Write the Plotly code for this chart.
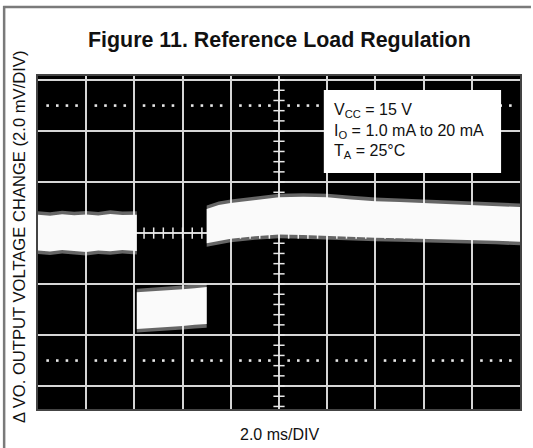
import numpy as np
import plotly.graph_objects as go

# ---------------- data (time in ms, voltage change in mV) ----------------
t_left = [0.0, 0.5, 1.0, 1.5, 2.0, 2.5, 3.0, 3.5, 4.1]
upper_left = [0.72, 0.68, 0.74, 0.70, 0.73, 0.69, 0.75, 0.71, 0.72]
lower_left = [-0.68, -0.72, -0.66, -0.70, -0.74, -0.68, -0.71, -0.66, -0.70]

t_low = [4.1, 4.5, 5.0, 5.5, 6.0, 6.5, 7.0]
upper_low = [-2.32, -2.30, -2.26, -2.24, -2.20, -2.16, -2.12]
lower_low = [-3.76, -3.74, -3.70, -3.68, -3.64, -3.60, -3.57]

t_high = [7.0, 7.5, 8.0, 9.0, 10.0, 11.0, 12.0, 13.0, 14.0, 15.0, 16.0, 17.0, 18.0, 19.0, 20.0]
upper_high = [0.94, 1.10, 1.18, 1.30, 1.40, 1.42, 1.40, 1.32, 1.25, 1.22, 1.18, 1.14, 1.10, 1.06, 1.02]
lower_high = [-0.40, -0.30, -0.22, -0.12, -0.06, -0.08, -0.12, -0.15, -0.18, -0.20, -0.22, -0.25, -0.28, -0.30, -0.34]

title_text = "Figure 11. Reference Load Regulation"
x_label = "2.0 ms/DIV"
y_label = "Δ VO. OUTPUT VOLTAGE CHANGE (2.0 mV/DIV)"
cond_lines = ["V<sub>CC</sub> = 15 V", "I<sub>O</sub> = 1.0 mA to 20 mA", "T<sub>A</sub> = 25°C"]

# ---------------- layout geometry ----------------
W, H = 533, 448
PL, PR, PT, PB = 38, 522, 76, 409
X_RANGE = [0, 20]
Y_RANGE = [-6.9, 6.16]
FONT = "Liberation Sans, Arial, sans-serif"
GRID = "#d6d6d6"


def px_x(px):
    return (px - PL) / (PR - PL)


def px_y(py):
    return (PB - py) / (PB - PT)


fig = go.Figure()

FUZZ = 0.14  # soft noisy edge thickness (mV), style only


def add_band(t, up, lo):
    up = np.array(up)
    lo = np.array(lo)
    fig.add_trace(go.Scatter(x=t, y=up + FUZZ, mode="lines", line=dict(width=0),
                             hoverinfo="skip", showlegend=False))
    fig.add_trace(go.Scatter(x=t, y=lo - FUZZ, mode="lines", line=dict(width=0),
                             fill="tonexty", fillcolor="rgba(255,255,255,0.4)",
                             hoverinfo="skip", showlegend=False))
    fig.add_trace(go.Scatter(x=t, y=up, mode="lines", line=dict(width=0),
                             hoverinfo="skip", showlegend=False))
    fig.add_trace(go.Scatter(x=t, y=lo, mode="lines", line=dict(width=0),
                             fill="tonexty", fillcolor="rgba(250,250,250,1)",
                             hoverinfo="skip", showlegend=False))


# graticule: dotted rows at +/-2.5 div
dot_x = [v for v in np.arange(0.4, 20, 0.4) if abs(v / 2 - round(v / 2)) > 1e-6]
for yv in (5.0, -5.0):
    fig.add_trace(go.Scatter(x=dot_x, y=[yv] * len(dot_x), mode="markers",
                             marker=dict(color="#e8e8e8", size=2.6, symbol="square"),
                             hoverinfo="skip", showlegend=False))
# centre cross minor ticks
tick_y = [v for v in np.arange(-6.8, 6.1, 0.4)]
fig.add_trace(go.Scatter(x=[10] * len(tick_y), y=tick_y, mode="markers",
                         marker=dict(symbol="line-ew", size=8, line=dict(color="#e8e8e8", width=1.5)),
                         hoverinfo="skip", showlegend=False))
tick_x = [v for v in np.arange(0.4, 20, 0.4)]
fig.add_trace(go.Scatter(x=tick_x, y=[0] * len(tick_x), mode="markers",
                         marker=dict(symbol="line-ns", size=8, line=dict(color="#e8e8e8", width=1.5)),
                         hoverinfo="skip", showlegend=False))

add_band(t_left, upper_left, lower_left)
add_band(t_low, upper_low, lower_low)
add_band(t_high, upper_high, lower_high)

shapes = [
    dict(type="rect", xref="paper", yref="paper", x0=px_x(325), x1=px_x(503),
         y0=px_y(173), y1=px_y(90), fillcolor="white", line=dict(width=0), layer="above"),
    dict(type="line", xref="paper", yref="paper", x0=px_x(3), x1=px_x(W), y0=px_y(7), y1=px_y(7),
         line=dict(color="#7a7a7a", width=2.5)),
    dict(type="line", xref="paper", yref="paper", x0=px_x(4), x1=px_x(4), y0=px_y(6), y1=px_y(H),
         line=dict(color="#7a7a7a", width=2.5)),
]

annotations = [
    dict(text=f"<b>{title_text}</b>", xref="paper", yref="paper", x=px_x(280), y=px_y(40),
         xanchor="center", yanchor="middle", showarrow=False,
         font=dict(family=FONT, size=21.4, color="#111")),
    dict(text=x_label, xref="paper", yref="paper", x=px_x(280), y=px_y(434),
         xanchor="center", yanchor="middle", showarrow=False,
         font=dict(family=FONT, size=16, color="#111")),
    dict(text=y_label, xref="paper", yref="paper", x=px_x(19), y=px_y(237),
         xanchor="center", yanchor="middle", showarrow=False, textangle=-90,
         font=dict(family=FONT, size=16.6, color="#111")),
]
for line, ypx in zip(cond_lines, [110, 131, 151]):
    annotations.append(dict(text=line, xref="paper", yref="paper", x=px_x(334), y=px_y(ypx),
                            xanchor="left", yanchor="middle", showarrow=False, borderpad=0,
                            font=dict(family=FONT, size=16, color="#111")))

fig.update_layout(
    width=W, height=H,
    margin=dict(l=PL, r=W - PR, t=PT, b=H - PB, pad=0),
    paper_bgcolor="white", plot_bgcolor="black",
    shapes=shapes, annotations=annotations,
    xaxis=dict(range=X_RANGE, dtick=2, tick0=0, showgrid=True, gridcolor=GRID, gridwidth=1.5,
               zeroline=False, showticklabels=False, ticks="", showline=True,
               linecolor="#444", linewidth=1.5, mirror=True, fixedrange=True),
    yaxis=dict(range=Y_RANGE, dtick=2, tick0=0, showgrid=True, gridcolor=GRID, gridwidth=1.5,
               zeroline=False, showticklabels=False, ticks="", showline=True,
               linecolor="#444", linewidth=1.5, mirror=True, fixedrange=True),
    showlegend=False,
)

fig.write_html("out.html", config={"displayModeBar": False},
               post_script="document.body.style.margin='0';document.body.style.overflow='hidden';")
